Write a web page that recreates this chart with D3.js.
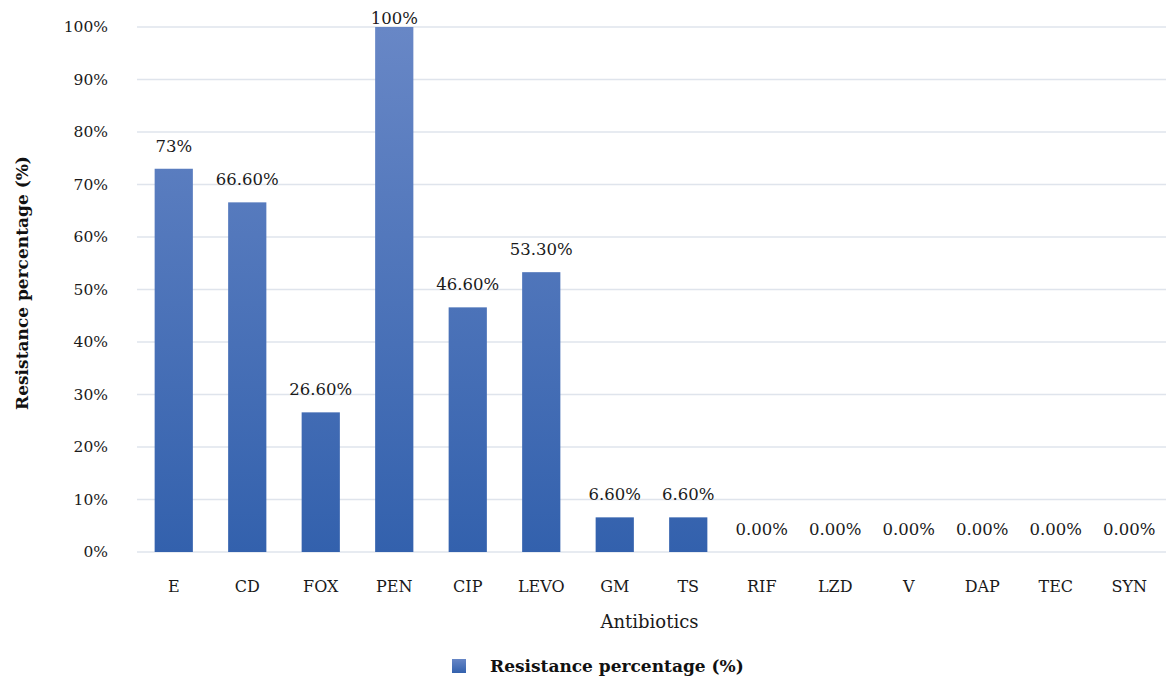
<!DOCTYPE html>
<html>
<head>
<meta charset="utf-8">
<script src="https://cdn.jsdelivr.net/npm/d3@7/dist/d3.min.js"></script>
<style>
  html, body { margin: 0; padding: 0; background: #fff; }
  svg { display: block; font-family: "DejaVu Serif", "Liberation Serif", serif; }
</style>
</head>
<body>
<svg id="chart" width="1166" height="681"></svg>
<script>
// Antibiotic resistance data
const antibiotics = ["E", "CD", "FOX", "PEN", "CIP", "LEVO", "GM", "TS", "RIF", "LZD", "V", "DAP", "TEC", "SYN"];
const resistance = [73, 66.6, 26.6, 100, 46.6, 53.3, 6.6, 6.6, 0, 0, 0, 0, 0, 0];
const valueLabels = ["73%", "66.60%", "26.60%", "100%", "46.60%", "53.30%", "6.60%", "6.60%", "0.00%", "0.00%", "0.00%", "0.00%", "0.00%", "0.00%"];
const yTicks = [0, 10, 20, 30, 40, 50, 60, 70, 80, 90, 100];
const seriesName = "Resistance percentage (%)";
const xTitle = "Antibiotics";

const svg = d3.select("#chart");
const margin = { left: 137, right: 0, top: 27, bottom: 129 };
const W = 1166, H = 681;
const ink = "#1a1a1a";

const x = d3.scaleBand().domain(antibiotics).range([margin.left, W - margin.right]).paddingInner(0.48).paddingOuter(0.24);
const y = d3.scaleLinear().domain([0, 100]).range([H - margin.bottom, margin.top]);

// bar gradients: light at the top, deeper blue at the base
const defs = svg.append("defs");
const grad = defs.append("linearGradient").attr("id", "barGrad").attr("x1", 0).attr("y1", 0).attr("x2", 0).attr("y2", 1);
grad.append("stop").attr("offset", "0%").attr("stop-color", "#6786c6");
grad.append("stop").attr("offset", "100%").attr("stop-color", "#3361ad");
const gradAbs = defs.append("linearGradient").attr("id", "barGradAbs").attr("gradientUnits", "userSpaceOnUse")
  .attr("x1", 0).attr("y1", y(100)).attr("x2", 0).attr("y2", y(0));
gradAbs.append("stop").attr("offset", "0%").attr("stop-color", "#6887c6");
gradAbs.append("stop").attr("offset", "100%").attr("stop-color", "#3361ad");

// gridlines
svg.append("g").selectAll("line").data(yTicks).join("line")
  .attr("x1", margin.left).attr("x2", W)
  .attr("y1", d => y(d)).attr("y2", d => y(d))
  .attr("stroke", "#dfe4ec").attr("stroke-width", 1.5);

// y axis tick labels
const yAxis = d3.axisLeft(y).tickValues(yTicks).tickFormat(d => d + "%").tickSize(0).tickPadding(29);
const yg = svg.append("g").attr("transform", `translate(${margin.left},0)`).call(yAxis);
yg.select(".domain").remove();
yg.selectAll("text").attr("font-family", "DejaVu Serif, serif").attr("font-size", 15.5).attr("fill", ink);

// x axis labels
const xAxis = d3.axisBottom(x).tickSize(0).tickPadding(29);
const xg = svg.append("g").attr("transform", `translate(0,${y(0)})`).call(xAxis);
xg.select(".domain").remove();
xg.selectAll("text").attr("font-family", "DejaVu Serif, serif").attr("font-size", 16).attr("fill", ink);

// bars
svg.append("g").selectAll("rect").data(antibiotics).join("rect")
  .attr("x", d => x(d))
  .attr("width", x.bandwidth())
  .attr("y", (d, i) => y(resistance[i]))
  .attr("height", (d, i) => y(0) - y(resistance[i]))
  .attr("fill", "url(#barGradAbs)");

// value labels (kept inside the top edge of the chart)
svg.append("g").selectAll("text").data(antibiotics).join("text")
  .attr("x", d => x(d) + x.bandwidth() / 2)
  .attr("y", (d, i) => Math.max(24, y(resistance[i]) - 17))
  .attr("text-anchor", "middle")
  .attr("font-size", 16.5)
  .attr("fill", ink)
  .text((d, i) => valueLabels[i]);

// axis titles
svg.append("text")
  .attr("transform", "translate(28,283) rotate(-90)")
  .attr("text-anchor", "middle")
  .attr("font-size", 17).attr("font-weight", "bold").attr("fill", "#111")
  .text(seriesName);

svg.append("text")
  .attr("x", (margin.left + W) / 2 - 2).attr("y", 628)
  .attr("text-anchor", "middle")
  .attr("font-size", 18).attr("fill", ink)
  .text(xTitle);

// legend
const lg = svg.append("g").attr("transform", "translate(452,659)");
lg.append("rect").attr("width", 14).attr("height", 14).attr("fill", "url(#barGrad)");
lg.append("text").attr("x", 38).attr("y", 13)
  .attr("font-size", 17).attr("font-weight", "bold").attr("fill", "#111")
  .text(seriesName);
</script>
</body>
</html>
